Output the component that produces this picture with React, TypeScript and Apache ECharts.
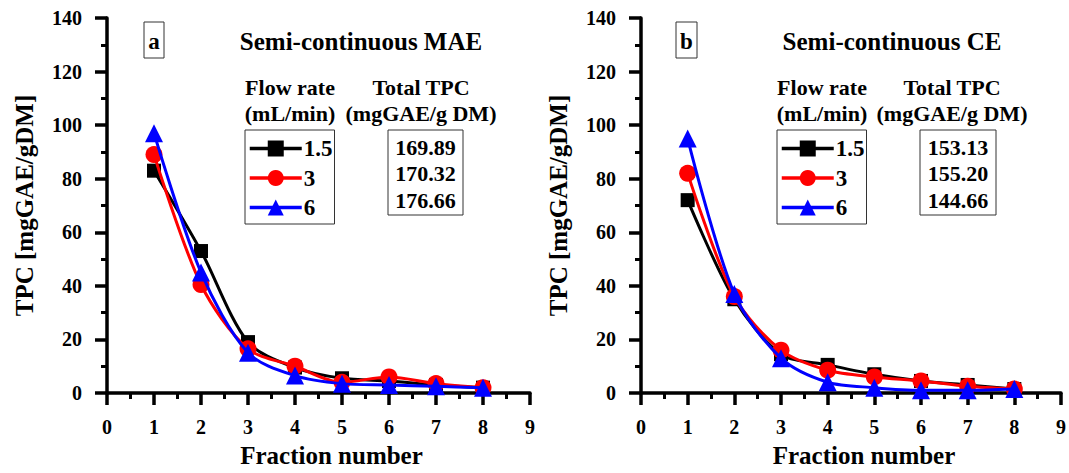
import React, { useEffect, useRef } from "react";
import * as echarts from "echarts";

const fractions = [1, 2, 3, 4, 5, 6, 7, 8];
const flowRates = ["1.5", "3", "6"];
const colors = ["#000000", "#ff0000", "#0000ff"];
const symbols = ["rect", "circle", "triangle"];
const symbolSizes = [14, 17, 18];

const maeFlow15 = [83, 53, 19, 9.5, 5.5, 4.5, 3, 2];
const maeFlow3 = [89, 40.5, 16.5, 10, 4, 6, 3.5, 2];
const maeFlow6 = [97, 45, 15, 6.5, 3.5, 3, 2.5, 2];

const ceFlow15 = [72, 35, 14.5, 10.5, 7, 4.5, 3, 1.5];
const ceFlow3 = [82, 36, 16, 8.5, 6, 4.5, 2.5, 1.5];
const ceFlow6 = [95, 37, 13, 4, 2, 1, 1, 1.5];

const maeTotals = ["169.89", "170.32", "176.66"];
const ceTotals = ["153.13", "155.20", "144.66"];

const panelLetters = ["a", "b"];
const panelTitles = ["Semi-continuous MAE", "Semi-continuous CE"];

const FONT = '"Liberation Serif", "Times New Roman", serif';

export default function App() {
  const ref = useRef<HTMLDivElement>(null);

  useEffect(() => {
    if (!ref.current) return;
    const chart = echarts.init(ref.current, null, { renderer: "svg" });

    const grids = [
      { left: 107, right: 539, top: 18, bottom: 77 },
      { left: 641, right: 6, top: 18, bottom: 77 },
    ];

    const axisCommon = {
      axisLine: { show: true, lineStyle: { color: "#000", width: 3.5 } },
      axisTick: { show: true, inside: false, length: 12, lineStyle: { color: "#000", width: 3.5 } },
      minorTick: { show: true, splitNumber: 2, length: 6, lineStyle: { color: "#000", width: 3 } },
      splitLine: { show: false },
      axisLabel: { color: "#000", fontWeight: "bold", fontSize: 20, fontFamily: FONT },
      nameTextStyle: { color: "#000", fontWeight: "bold", fontSize: 25, fontFamily: FONT },
    };

    const xAxes = [0, 1].map((i) => ({
      ...axisCommon,
      type: "value",
      gridIndex: i,
      min: 0,
      max: 9,
      interval: 1,
      name: "Fraction number",
      nameLocation: "middle",
      nameGap: 50,
      nameTextStyle: { ...axisCommon.nameTextStyle, padding: [0, 0, 0, 26] },
      axisLabel: { ...axisCommon.axisLabel, margin: 24 },
    }));

    const yAxes = [0, 1].map((i) => ({
      ...axisCommon,
      type: "value",
      gridIndex: i,
      min: 0,
      max: 140,
      interval: 20,
      name: "TPC [mgGAE/gDM]",
      nameLocation: "middle",
      nameGap: 70,
      axisLabel: { ...axisCommon.axisLabel, margin: 25 },
    }));

    const panelData = [
      [maeFlow15, maeFlow3, maeFlow6],
      [ceFlow15, ceFlow3, ceFlow6],
    ];

    const series: any[] = [];
    panelData.forEach((sets, p) => {
      sets.forEach((vals, k) => {
        series.push({
          type: "line",
          name: flowRates[k],
          xAxisIndex: p,
          yAxisIndex: p,
          data: fractions.map((f, j) => [f, vals[j]]),
          smooth: 0.3,
          symbol: symbols[k],
          symbolSize: symbolSizes[k],
          lineStyle: { color: colors[k], width: 3 },
          itemStyle: { color: colors[k] },
          z: 2 + k,
        });
      });
    });

    const legendLefts = [245, 777];
    const legends = legendLefts.map((left) => ({
      data: flowRates,
      orient: "vertical",
      left,
      top: 130,
      itemWidth: 52,
      itemHeight: 20,
      itemGap: 6.5,
      padding: [7, 2, 5, 3],
      borderColor: "#333",
      borderWidth: 1,
      selectedMode: false,
      lineStyle: { width: 3.5 },
      textStyle: { color: "#000", fontWeight: "bold", fontSize: 23, fontFamily: FONT, padding: [0, 0, 0, -3] },
    }));

    const txt = (text: string, x: number, y: number, size: number) => ({
      type: "text",
      x,
      y,
      style: {
        text,
        fill: "#000",
        font: `bold ${size}px ${FONT}`,
        textAlign: "center",
        textVerticalAlign: "middle",
      },
    });
    const box = (x: number, y: number, w: number, h: number) => ({
      type: "rect",
      shape: { x, y, width: w, height: h },
      style: { fill: "none", stroke: "#333", lineWidth: 1 },
    });

    const layouts = [
      { letterBox: [144, 22, 20, 36], title: 361, flow: 290, total: 421, totBox: [388, 130, 75, 85], totals: maeTotals },
      { letterBox: [676, 22, 21, 36], title: 892, flow: 822, total: 952, totBox: [920, 130, 76, 85], totals: ceTotals },
    ];

    const graphics: any[] = [];
    layouts.forEach((l, p) => {
      const [bx, by, bw, bh] = l.letterBox;
      graphics.push(box(bx, by, bw, bh));
      graphics.push(txt(panelLetters[p], bx + bw / 2, by + bh / 2 + 1, 23));
      graphics.push(txt(panelTitles[p], l.title, 41, 25));
      graphics.push(txt("Flow rate", l.flow, 87, 22));
      graphics.push(txt("(mL/min)", l.flow, 113, 22));
      graphics.push(txt("Total TPC", l.total, 87, 22));
      graphics.push(txt("(mgGAE/g DM)", l.total, 113, 22));
      const [tx, ty, tw, th] = l.totBox;
      graphics.push(box(tx, ty, tw, th));
      l.totals.forEach((v, k) => {
        graphics.push(txt(v, tx + tw / 2, 147 + k * 26.5, 22));
      });
    });

    chart.setOption({
      animation: false,
      backgroundColor: "#fff",
      textStyle: { fontFamily: FONT },
      grid: grids,
      xAxis: xAxes,
      yAxis: yAxes,
      legend: legends,
      series,
      graphic: graphics,
    });

    return () => chart.dispose();
  }, []);

  return (
    <div
      ref={ref}
      style={{ position: "fixed", left: 0, top: 0, width: 1069, height: 473, background: "#fff" }}
    />
  );
}
